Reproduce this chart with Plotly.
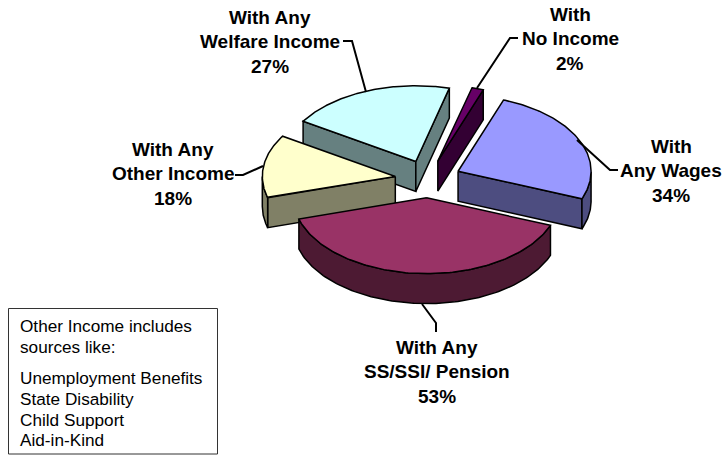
import numpy as np
import plotly.graph_objects as go

# Data
categories = ["With No Income", "With Any Wages", "With Any SS/SSI/ Pension",
              "With Any Other Income", "With Any Welfare Income"]
values = [2, 34, 53, 18, 27]
top_colors = ["#660066", "#9999FF", "#993366", "#FFFFCC", "#CCFFFF"]
side_colors = ["#330033", "#4D4D80", "#4D1A33", "#808066", "#668080"]
label_lines = [["With", "No Income", "2%"],
               ["With", "Any Wages", "34%"],
               ["With Any", "SS/SSI/ Pension", "53%"],
               ["With Any", "Other Income", "18%"],
               ["With Any", "Welfare Income", "27%"]]
label_x = [570, 671, 437, 173, 270]
label_y = [14, 146, 347, 149, 17]
note_lines = ["Other Income includes", "sources like:", "Unemployment Benefits",
              "State Disability", "Child Support", "Aid-in-Kind"]
note_y = [326, 347, 378, 399, 420, 440]
leaders = [([518, 510, 477], [38, 38, 88]),
           ([618, 610, 577], [170, 170, 140]),
           ([422, 436, 436], [304, 323, 332]),
           ([235, 243, 263], [175, 175, 166]),
           ([343, 352, 366], [41, 41, 92])]

# Projection of the tilted pie
CX, CY, R, K, EXPLODE, DEPTH, START = 428, 179, 133, 0.57, 33, 30, 14.6
FONT = "Liberation Sans, Arial, sans-serif"


def project(theta, r, ox, oy, dz=0.0):
    t = np.radians(theta)
    return ox + r * np.sin(t), oy - r * K * np.cos(t) + dz


fig = go.Figure()


def poly(xs, ys, fill):
    fig.add_trace(go.Scatter(x=list(xs), y=list(ys), mode="lines", fill="toself",
                             fillcolor=fill, line=dict(color="black", width=1.5),
                             hoverinfo="skip", showlegend=False))


sweeps = 360 * np.array(values) / sum(values)
starts = START + np.concatenate([[0], np.cumsum(sweeps)[:-1]])
wedges = []
for i, (a0, sw) in enumerate(zip(starts, sweeps)):
    mid = a0 + sw / 2
    ox, oy = project(mid, EXPLODE, CX, CY)
    wedges.append((i, a0, a0 + sw, ox, oy))

# Painter's order: farthest wedge (smallest screen y of its centre) first
for i, a0, a1, ox, oy in sorted(wedges, key=lambda w: w[4]):
    side, top = side_colors[i], top_colors[i]
    # radial faces that look toward the viewer
    for ang, visible in ((a0, np.sin(np.radians(a0)) < 0), (a1, np.sin(np.radians(a1)) > 0)):
        if visible:
            rx, ry = project(ang, R, ox, oy)
            poly([ox, rx, rx, ox, ox], [oy, ry, ry + DEPTH, oy + DEPTH, oy], side)
    # outer rim where it faces the viewer
    arc = np.linspace(a0, a1, 120)
    mask = np.cos(np.radians(arc)) < 0
    if mask.any():
        ax, ay = project(arc[mask], R, ox, oy)
        poly(np.r_[ax, ax[::-1], ax[0]], np.r_[ay, ay[::-1] + DEPTH, ay[0]], side)
    # top surface
    ax, ay = project(arc, R, ox, oy)
    poly(np.r_[ox, ax, ox], np.r_[oy, ay, oy], top)

# Leader lines
for lx, ly in leaders:
    fig.add_trace(go.Scatter(x=lx, y=ly, mode="lines", line=dict(color="black", width=2),
                             hoverinfo="skip", showlegend=False))

ann = []
LINE_GAP = 24.7
for lines, x, y in zip(label_lines, label_x, label_y):
    for j, txt in enumerate(lines):
        ann.append(dict(x=x, y=y + j * LINE_GAP, text=f"<b>{txt}</b>", showarrow=False,
                        xanchor="center", yanchor="middle",
                        font=dict(family=FONT, size=19, color="black")))
for txt, y in zip(note_lines, note_y):
    ann.append(dict(x=18, y=y, text=txt, showarrow=False, xanchor="left", yanchor="middle",
                    font=dict(family=FONT, size=17.2, color="black")))

fig.update_layout(
    width=725, height=455, margin=dict(l=0, r=0, t=0, b=0),
    paper_bgcolor="white", plot_bgcolor="white", showlegend=False,
    xaxis=dict(range=[0, 725], visible=False, fixedrange=True),
    yaxis=dict(range=[455, 0], visible=False, fixedrange=True),
    annotations=ann,
    shapes=[dict(type="rect", x0=8.5, x1=217.5, y0=308.5, y1=454,
                 line=dict(color="#333333", width=1), fillcolor="white", layer="below")],
)
fig.write_html("out.html", config={"displayModeBar": False},
               post_script="document.body.style.margin='0';document.body.style.overflow='hidden';")
